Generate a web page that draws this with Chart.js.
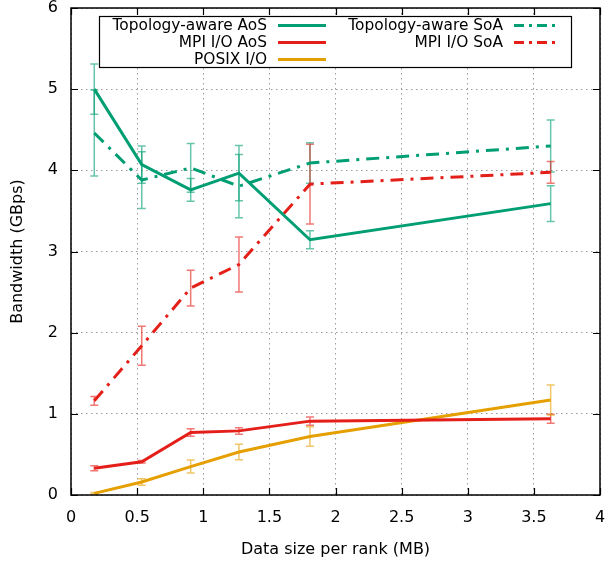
<!DOCTYPE html>
<html>
<head>
<meta charset="utf-8">
<script src="https://cdn.jsdelivr.net/npm/chart.js@4.4.0/dist/chart.umd.min.js"></script>
<style>
  html, body { margin: 0; padding: 0; background: #fff; }
  canvas { display: block; }
</style>
</head>
<body>
<canvas id="bw-chart" width="608" height="563"></canvas>
<script>
// data size per rank (MB)
var sizes = [0.176, 0.535, 0.905, 1.27, 1.807, 3.627];

// bandwidth (GBps) and error half-widths
var topoAoS = [5.00, 4.07, 3.76, 3.965, 3.145, 3.59];
var topoAoSErr = [0.31, 0.23, 0.14, 0.34, 0.11, 0.22];
var mpiAoS = [0.33, 0.41, 0.77, 0.79, 0.91, 0.94];
var mpiAoSErr = [0.03, 0.015, 0.045, 0.04, 0.05, 0.055];
var posix = [0.02, 0.16, 0.35, 0.53, 0.72, 1.17];
var posixErr = [0.01, 0.04, 0.08, 0.095, 0.12, 0.185];
var topoSoA = [4.46, 3.88, 4.03, 3.805, 4.09, 4.30];
var topoSoAErr = [0.53, 0.35, 0.30, 0.39, 0.25, 0.32];
var mpiSoA = [1.16, 1.84, 2.55, 2.84, 3.83, 3.975];
var mpiSoAErr = [0.055, 0.24, 0.22, 0.34, 0.49, 0.135];

var xTicks = [0, 0.5, 1, 1.5, 2, 2.5, 3, 3.5, 4];
var yTicks = [0, 1, 2, 3, 4, 5, 6];

var GREEN = 'rgb(0,158,115)';
var RED = 'rgb(228,30,24)';
var ORANGE = 'rgb(230,159,0)';
var DASHDOT = [13, 7, 3, 7];
var FONT = 'DejaVu Sans';

function points(ys) {
    return ys.map(function (v, i) { return { x: sizes[i], y: v }; });
}

function series(label, ys, errs, color, dash) {
    return {
        label: label,
        data: points(ys),
        errors: errs,
        borderColor: color,
        errorColor: color.replace('rgb', 'rgba').replace(')', ',0.6)'),
        borderWidth: 3,
        borderDash: dash,
        pointRadius: 0,
        tension: 0,
        fill: false
    };
}

// vertical error bars with caps
var errorBars = {
    id: 'errorBars',
    beforeDatasetsDraw: function (chart) {
        var ctx = chart.ctx, x = chart.scales.x, y = chart.scales.y;
        chart.data.datasets.forEach(function (ds) {
            ctx.save();
            ctx.strokeStyle = ds.errorColor;
            ctx.lineWidth = 1.5;
            ds.data.forEach(function (p, i) {
                var px = x.getPixelForValue(p.x);
                var top = y.getPixelForValue(p.y + ds.errors[i]);
                var bot = y.getPixelForValue(p.y - ds.errors[i]);
                ctx.beginPath();
                ctx.moveTo(px, top); ctx.lineTo(px, bot);
                ctx.moveTo(px - 4, top); ctx.lineTo(px + 4, top);
                ctx.moveTo(px - 4, bot); ctx.lineTo(px + 4, bot);
                ctx.stroke();
            });
            ctx.restore();
        });
    }
};

// black frame with inward ticks on all four sides
var frame = {
    id: 'frame',
    afterDatasetsDraw: function (chart) {
        var ctx = chart.ctx, a = chart.chartArea, x = chart.scales.x, y = chart.scales.y;
        ctx.save();
        ctx.strokeStyle = '#000';
        ctx.lineWidth = 1.2;
        ctx.beginPath();
        x.ticks.forEach(function (t) {
            var px = Math.round(x.getPixelForValue(t.value)) + 0.5;
            ctx.moveTo(px, a.bottom); ctx.lineTo(px, a.bottom - 7);
            ctx.moveTo(px, a.top); ctx.lineTo(px, a.top + 7);
        });
        y.ticks.forEach(function (t) {
            var py = Math.round(y.getPixelForValue(t.value)) + 0.5;
            ctx.moveTo(a.left, py); ctx.lineTo(a.left + 7, py);
            ctx.moveTo(a.right, py); ctx.lineTo(a.right - 7, py);
        });
        ctx.stroke();
        ctx.lineWidth = 1.5;
        ctx.strokeRect(a.left, a.top, a.right - a.left, a.bottom - a.top);
        ctx.restore();
    }
};

// gnuplot style key: two columns, text right aligned, sample on the right
var key = {
    id: 'key',
    afterDraw: function (chart) {
        var ctx = chart.ctx, ds = chart.data.datasets;
        var cols = [{ textRight: 267, lineFrom: 278, lineTo: 326, items: [0, 1, 2] },
                    { textRight: 503, lineFrom: 514, lineTo: 557, items: [3, 4] }];
        ctx.save();
        ctx.fillStyle = '#fff';
        ctx.fillRect(99, 16, 473, 52);
        ctx.strokeStyle = '#000';
        ctx.lineWidth = 1.2;
        ctx.strokeRect(99.5, 16.5, 472, 51);
        ctx.font = '15.4px "' + FONT + '"';
        ctx.textAlign = 'right';
        ctx.textBaseline = 'middle';
        cols.forEach(function (c) {
            c.items.forEach(function (idx, row) {
                var d = ds[idx], yy = 25.5 + row * 17;
                ctx.fillStyle = '#000';
                ctx.fillText(d.label, c.textRight, yy);
                ctx.strokeStyle = d.borderColor;
                ctx.lineWidth = 3;
                ctx.setLineDash(d.borderDash.length ? [10, 5, 3, 5] : []);
                ctx.beginPath();
                ctx.moveTo(c.lineFrom, yy); ctx.lineTo(c.lineTo, yy);
                ctx.stroke();
                ctx.setLineDash([]);
            });
        });
        ctx.restore();
    }
};

function plainTick(v) { return String(v); }

var ctx = document.getElementById('bw-chart').getContext('2d');
var myChart = new Chart(ctx, {
    type: 'line',
    data: {
        datasets: [
            series('Topology-aware AoS', topoAoS, topoAoSErr, GREEN, []),
            series('MPI I/O AoS', mpiAoS, mpiAoSErr, RED, []),
            series('POSIX I/O', posix, posixErr, ORANGE, []),
            series('Topology-aware SoA', topoSoA, topoSoAErr, GREEN, DASHDOT),
            series('MPI I/O SoA', mpiSoA, mpiSoAErr, RED, DASHDOT)
        ]
    },
    options: {
        responsive: false,
        animation: false,
        layout: { padding: { top: 8, right: 8 } },
        plugins: {
            legend: { display: false },
            tooltip: { enabled: false }
        },
        scales: {
            x: {
                type: 'linear',
                min: 0,
                max: 4,
                afterBuildTicks: function (s) { s.ticks = xTicks.map(function (v) { return { value: v }; }); },
                afterFit: function (s) { s.height = 68; s.paddingLeft = 0; s.paddingRight = 0; },
                grid: { color: '#9a9a9a', lineWidth: 1, drawTicks: false },
                border: { display: false, dash: [1.5, 3.5] },
                ticks: { padding: 13, color: '#000', maxRotation: 0, callback: plainTick, font: { family: FONT, size: 16 } },
                title: { display: true, text: 'Data size per rank (MB)', color: '#000', padding: { top: 3 }, font: { family: FONT, size: 16 } }
            },
            y: {
                min: 0,
                max: 6,
                afterBuildTicks: function (s) { s.ticks = yTicks.map(function (v) { return { value: v }; }); },
                afterFit: function (s) { s.width = 71; s.paddingTop = 0; s.paddingBottom = 0; },
                grid: { color: '#9a9a9a', lineWidth: 1, drawTicks: false },
                border: { display: false, dash: [1.5, 3.5] },
                ticks: { padding: 13, color: '#000', callback: plainTick, font: { family: FONT, size: 16 } },
                title: { display: true, text: 'Bandwidth (GBps)', color: '#000', padding: { top: 8 }, font: { family: FONT, size: 16 } }
            }
        }
    },
    plugins: [errorBars, frame, key]
});
</script>
</body>
</html>
